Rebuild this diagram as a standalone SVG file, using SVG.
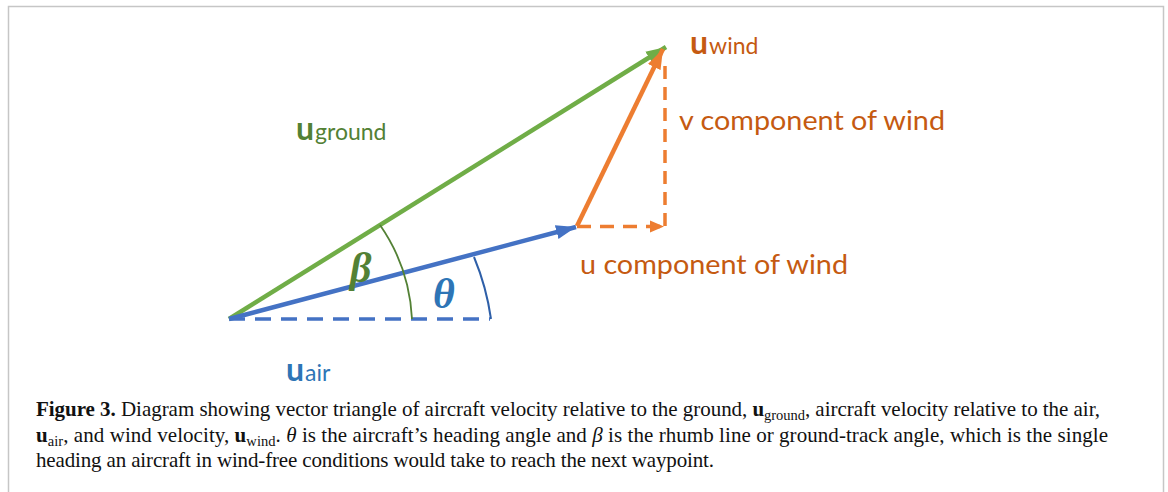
<svg xmlns="http://www.w3.org/2000/svg" width="1168" height="492" viewBox="0 0 1168 492">
<style>
.lbl{font-family:Lato,"Open Sans",sans-serif}
.bu{font-weight:bold;font-size:32px}
.sub{font-size:23px}
.comp{font-size:26px;fill:#C55A11}
.cap{font-family:"Liberation Serif",serif;font-size:21px;fill:#111}
.greek{font-family:"Liberation Serif",serif;font-style:italic;font-weight:bold;font-size:42px}
</style>
<defs>
<marker id="ag" markerUnits="userSpaceOnUse" markerWidth="22" markerHeight="16" refX="20" refY="8" orient="auto"><path d="M0,1 L20,8 L0,15 Z" fill="#70AD47"/></marker>
<marker id="ab" markerUnits="userSpaceOnUse" markerWidth="22" markerHeight="16" refX="20" refY="8" orient="auto"><path d="M0,1 L20,8 L0,15 Z" fill="#4472C4"/></marker>
<marker id="ao" markerUnits="userSpaceOnUse" markerWidth="22" markerHeight="16" refX="20" refY="8" orient="auto"><path d="M0,1 L20,8 L0,15 Z" fill="#ED7D31"/></marker>
<marker id="ao2" markerUnits="userSpaceOnUse" markerWidth="16" markerHeight="14" refX="14" refY="7" orient="auto"><path d="M0,1 L14,7 L0,13 Z" fill="#ED7D31"/></marker>
</defs>
<rect x="0" y="0" width="1168" height="492" fill="#fff"/>
<path d="M8.5,500 V6.5 H1163.5 V500" fill="none" stroke="#c6c6c6" stroke-width="1.5"/>
<g id="connectors" fill="none">
<line id="air-dash" x1="229" y1="319" x2="490" y2="319" stroke="#4472C4" stroke-width="3.5" stroke-dasharray="16,10"/>
<line id="u-wind-dash" x1="577" y1="226.5" x2="664" y2="226.5" stroke="#ED7D31" stroke-width="3.5" stroke-dasharray="14,9" marker-end="url(#ao2)"/>
<line id="v-wind-dash" x1="665" y1="226" x2="665" y2="62" stroke="#ED7D31" stroke-width="3.5" stroke-dasharray="13,8"/>
<line id="ground" x1="229" y1="319" x2="666" y2="47" stroke="#70AD47" stroke-width="4.5" marker-end="url(#ag)"/>
<line id="air" x1="229" y1="319" x2="576" y2="227" stroke="#4472C4" stroke-width="4.5" marker-end="url(#ab)"/>
<line id="wind" x1="577" y1="226" x2="663" y2="49" stroke="#ED7D31" stroke-width="4.5" marker-end="url(#ao)"/>
<path id="beta-arc" d="M380,225 A180,180 0 0 1 412,319" stroke="#538135" stroke-width="1.8"/>
<path id="theta-arc" d="M474,257 A255,255 0 0 1 491,319" stroke="#2E5FA8" stroke-width="2"/>
</g>
<g id="label-ground"><text class="lbl" x="296" y="140" fill="#538135"><tspan class="bu">u</tspan><tspan class="sub" dx="1">ground</tspan></text></g>
<g id="label-wind"><text class="lbl" x="690" y="54" fill="#C55A11"><tspan class="bu">u</tspan><tspan class="sub" dx="1">wind</tspan></text></g>
<g id="label-air"><text class="lbl" x="286" y="381" fill="#2E75B6"><tspan class="bu">u</tspan><tspan class="sub" dx="1">air</tspan></text></g>
<g id="label-v"><text class="lbl comp" x="679" y="130" textLength="266" lengthAdjust="spacingAndGlyphs">v component of wind</text></g>
<g id="label-u"><text class="lbl comp" x="580" y="274" textLength="268" lengthAdjust="spacingAndGlyphs">u component of wind</text></g>
<g id="label-beta"><text class="greek" x="350" y="282" fill="#538135">β</text></g>
<g id="label-theta"><text class="greek" x="433" y="308" fill="#2E75B6">θ</text></g>
<g id="caption" class="cap">
<text x="36" y="416" textLength="1064" lengthAdjust="spacing"><tspan font-weight="bold">Figure 3.</tspan> Diagram showing vector triangle of aircraft velocity relative to the ground, <tspan font-weight="bold">u</tspan><tspan font-size="14.5px" dy="4">ground</tspan><tspan dy="-4">, aircraft velocity relative to the air,</tspan></text>
<text x="36" y="442" textLength="1072" lengthAdjust="spacing"><tspan font-weight="bold">u</tspan><tspan font-size="14.5px" dy="4">air</tspan><tspan dy="-4">, and wind velocity, </tspan><tspan font-weight="bold">u</tspan><tspan font-size="14.5px" dy="4">wind</tspan><tspan dy="-4">. </tspan><tspan font-style="italic">θ</tspan> is the aircraft’s heading angle and <tspan font-style="italic">β</tspan> is the rhumb line or ground-track angle, which is the single</text>
<text x="36" y="467" textLength="678" lengthAdjust="spacing">heading an aircraft in wind-free conditions would take to reach the next waypoint.</text>
</g>
</svg>
